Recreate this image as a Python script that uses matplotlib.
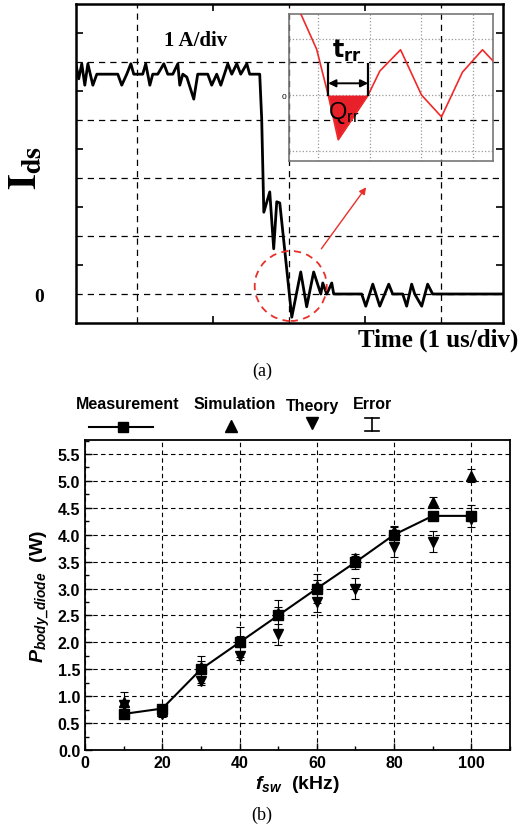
import matplotlib
matplotlib.use("Agg")
import matplotlib.pyplot as plt
from matplotlib.patches import Ellipse
from matplotlib.ticker import MultipleLocator, FixedLocator, FormatStrFormatter
from matplotlib.lines import Line2D

plt.rcParams["mathtext.fontset"] = "custom"
plt.rcParams["mathtext.rm"] = "Liberation Sans:bold"
plt.rcParams["mathtext.it"] = "Liberation Sans:bold:italic"
plt.rcParams["mathtext.bf"] = "Liberation Sans:bold"

SERIF = "Liberation Serif"
SANS = "Liberation Sans"

# ---- (a) turn-off drain current, time in us (1 us/div), current in A (1 A/div)
t_us = [-0.401, -0.382, -0.362, -0.342, -0.322, -0.289, -0.263, -0.125, -0.099, -0.066,
        -0.039, -0.020, 0.039, 0.059, 0.086, 0.105, 0.138, 0.178, 0.204, 0.237,
        0.270, 0.283, 0.303, 0.329, 0.375, 0.401, 0.467, 0.493, 0.526, 0.553,
        0.599, 0.625, 0.658, 0.684, 0.724, 0.743, 0.809, 0.822, 0.836, 0.875,
        0.901, 0.921, 0.941, 1.020, 1.079, 1.118, 1.164, 1.211, 1.224, 1.250,
        1.283, 1.296, 1.480, 1.507, 1.553, 1.599, 1.658, 1.684, 1.750, 1.776,
        1.809, 1.829, 1.875, 1.914, 1.947, 2.401]
i_ds = [3.97, 3.71, 3.97, 3.60, 3.97, 3.60, 3.79, 3.79, 3.60, 3.79,
        3.97, 3.79, 3.79, 3.97, 3.60, 3.79, 3.79, 3.97, 3.79, 3.79,
        3.97, 3.60, 3.79, 3.74, 3.36, 3.79, 3.79, 3.60, 3.79, 3.60,
        3.97, 3.79, 3.97, 3.79, 3.97, 3.79, 3.79, 3.02, 1.41, 1.76,
        0.78, 1.59, 1.57, -0.40, 0.38, -0.22, 0.38, 0.00, 0.19, 0.00,
        0.19, 0.00, 0.00, -0.21, 0.17, -0.21, 0.17, 0.00, 0.00, -0.21,
        0.17, 0.00, -0.21, 0.17, 0.00, 0.00]

# inset: reverse recovery detail (inset grid units)
ins_t = [-0.335, -0.025, 0.199, 0.393, 0.973, 1.199, 1.600, 2.006, 2.393, 2.799, 3.186, 3.391]
ins_i = [1.46, 0.82, 0.00, -0.80, 0.00, 0.43, 0.81, 0.00, -0.39, 0.41, 0.81, 0.61]

# ---- (b) body diode loss vs switching frequency
f_khz = [10, 20, 30, 40, 50, 60, 70, 80, 90, 100]
p_meas = [0.67, 0.77, 1.50, 2.00, 2.50, 3.00, 3.49, 4.00, 4.35, 4.35]
p_meas_err = [0.05, 0.05, 0.25, 0.28, 0.28, 0.27, 0.12, 0.15, 0.08, 0.20]
p_sim = [0.90, 0.72, 1.55, 2.02, 2.55, 3.05, 3.57, 4.07, 4.60, 5.10]
p_sim_err = [0.17, 0.05, 0.10, 0.10, 0.10, 0.10, 0.08, 0.10, 0.10, 0.12]
p_theory = [0.84, 0.67, 1.28, 1.75, 2.15, 2.75, 3.00, 3.77, 3.87, 4.30]
p_theory_err = [0.05, 0.05, 0.08, 0.08, 0.19, 0.18, 0.20, 0.19, 0.20, 0.05]

W, H = 520, 829
fig = plt.figure(figsize=(W / 100, H / 100), dpi=100)


def fx(px):
    return px / W


def fy(py):
    return 1 - py / H


# ---------------- panel (a) ----------------
ax = fig.add_axes([fx(76), fy(324), fx(503) - fx(76), fy(5) - fy(324)])
ax.plot(t_us, i_ds, color="black", lw=2.0, zorder=3)
ax.set_xlim(-0.40, 2.41)
ax.set_ylim(-0.5, 5.0)
ax.xaxis.set_major_locator(FixedLocator([0, 1, 2]))
ax.xaxis.set_minor_locator(FixedLocator([0.5, 1.5]))
ax.yaxis.set_major_locator(FixedLocator([0, 1, 2, 3, 4]))
ax.yaxis.set_minor_locator(FixedLocator([0.5, 1.5, 2.5, 3.5, 4.5]))
ax.set_xticklabels([])
ax.set_yticklabels(["0", "", "", "", ""], fontfamily=SERIF, fontweight="bold", fontsize=14)
ax.tick_params(which="both", direction="in", top=True, right=True, width=1.2)
ax.tick_params(axis="y", which="major", pad=23, length=0)
ax.tick_params(axis="x", which="major", length=0)
ax.tick_params(which="minor", length=5)
ax.grid(True, which="major", ls=(0, (5, 4)), color="black", lw=0.9)
for s in ax.spines.values():
    s.set_linewidth(1.8)

ax.add_patch(Ellipse((1.013, 0.138), 0.474, 1.207, fill=False, ec="#e8302a",
                     ls=(0, (4, 3)), lw=1.3, zorder=4))
ax.annotate("", xy=(1.520, 1.879), xytext=(1.204, 0.741),
            arrowprops=dict(arrowstyle="-|>", color="#e8302a", lw=1.0,
                            mutation_scale=10), zorder=4)

ax.text(0.39, 4.38, "1 A/div", fontfamily=SERIF, fontweight="bold", fontsize=15,
        ha="center", va="center")

# inset
ins = fig.add_axes([fx(289), fy(162), fx(493) - fx(289), fy(15) - fy(162)])
ins.patch.set_alpha(0)
ins.plot(ins_t, ins_i, color="#f02a2a", lw=1.2, zorder=3)
ins.fill_between(ins_t[2:5], ins_i[2:5], 0, color="#e8202a", lw=0, zorder=2)
ins.set_xlim(-0.56, 3.39)
ins.set_ylim(-1.18, 1.45)
ins.set_xticks([0, 1, 2, 3])
ins.set_yticks([-1, 0, 1])
ins.set_xticklabels([])
ins.set_yticklabels(["", "0", ""], fontsize=6, fontfamily=SANS)
ins.tick_params(length=0, pad=2)
ins.grid(True, ls=":", color="#999999", lw=0.9)
for s in ins.spines.values():
    s.set_color("#777777")
    s.set_linewidth(1.2)
for xb in (ins_t[2], ins_t[4]):
    ins.plot([xb, xb], [0, 0.55], color="black", lw=1.6, zorder=4)
ins.annotate("", xy=(ins_t[2], 0.21), xytext=(ins_t[4], 0.21),
             arrowprops=dict(arrowstyle="<|-|>", color="black", lw=1.4,
                             mutation_scale=11, shrinkA=0, shrinkB=0), zorder=4)
ins.text(0.56, 0.80, r"$\mathbf{t_{rr}}$", fontsize=17, ha="center", va="center",
         math_fontfamily="dejavusans")
ins.text(0.50, -0.30, r"$\mathregular{Q_{rr}}$", fontsize=17, ha="center", va="center",
         math_fontfamily="dejavusans", fontfamily=SANS)

fig.text(fx(25), fy(168), r"$\mathbf{I_{ds}}$", rotation=90, fontsize=29,
         ha="center", va="center", math_fontfamily="stix")
fig.text(fx(518), fy(340), "Time (1 us/div)", fontfamily=SERIF, fontweight="bold",
         fontsize=18, ha="right", va="center")
fig.text(fx(262), fy(371), "(a)", fontfamily=SERIF, fontsize=13, ha="center", va="center")

# ---------------- panel (b) ----------------
bx = fig.add_axes([fx(85), fy(751), fx(510) - fx(85), fy(441) - fy(751)])
ek = dict(fmt="none", ecolor="black", elinewidth=0.8, capsize=3, capthick=0.8, zorder=2)
bx.errorbar(f_khz, p_meas, yerr=p_meas_err, **ek)
bx.errorbar(f_khz, p_sim, yerr=p_sim_err, **ek)
bx.errorbar(f_khz, p_theory, yerr=p_theory_err, **ek)
bx.plot(f_khz, p_theory, ls="none", marker="v", ms=7, color="black", zorder=3)
bx.plot(f_khz, p_sim, ls="none", marker="^", ms=7, color="black", zorder=3)
bx.plot(f_khz, p_meas, color="black", lw=1.5, marker="s", ms=6.5, zorder=4)
bx.set_xlim(0, 110)
bx.set_ylim(0, 5.76)
bx.xaxis.set_major_locator(MultipleLocator(20))
bx.xaxis.set_minor_locator(MultipleLocator(10))
bx.yaxis.set_major_locator(MultipleLocator(0.5))
bx.yaxis.set_minor_locator(MultipleLocator(0.25))
bx.set_yticks([0, 0.5, 1, 1.5, 2, 2.5, 3, 3.5, 4, 4.5, 5, 5.5])
bx.yaxis.set_major_formatter(FormatStrFormatter("%.1f"))
bx.tick_params(which="both", direction="in", labelsize=11.5, width=1.0)
bx.tick_params(which="major", length=5)
bx.tick_params(which="minor", length=3)
for lab in bx.get_xticklabels() + bx.get_yticklabels():
    lab.set_fontfamily(SANS)
    lab.set_fontweight("bold")
bx.grid(True, which="major", ls=(0, (4, 3)), color="black", lw=0.8)
for s in bx.spines.values():
    s.set_linewidth(1.3)
bx.set_xlabel(r"$f_{sw}$  (kHz)", fontfamily=SANS, fontweight="bold", fontsize=14,
              labelpad=2)
bx.set_ylabel(r"$P_{body\_diode}$  (W)", fontfamily=SANS, fontweight="bold", fontsize=14,
              labelpad=4)

# legend drawn above the axes
txt = dict(fontfamily=SANS, fontweight="bold", fontsize=11.5, ha="center", va="center")
fig.text(fx(128), fy(405), "Measurement", **txt)
fig.text(fx(235), fy(405), "Simulation", **txt)
fig.text(fx(312), fy(407), "Theory", **txt)
fig.text(fx(373), fy(405), "Error", **txt)
fig.add_artist(Line2D([fx(89), fx(153)], [fy(428), fy(428)], color="black", lw=1.5))
fig.add_artist(Line2D([fx(123)], [fy(428)], marker="s", ms=6.5, color="black"))
fig.add_artist(Line2D([fx(231)], [fy(427)], marker="^", ms=9, color="black"))
fig.add_artist(Line2D([fx(312)], [fy(424)], marker="v", ms=9, color="black"))
fig.add_artist(Line2D([fx(372), fx(372)], [fy(419), fy(432)], color="black", lw=1.2))
for yy in (419, 432):
    fig.add_artist(Line2D([fx(365), fx(379)], [fy(yy), fy(yy)], color="black", lw=1.2))

fig.text(fx(262), fy(815), "(b)", fontfamily=SERIF, fontsize=13, ha="center", va="center")

fig.savefig("out.png", dpi=100)
